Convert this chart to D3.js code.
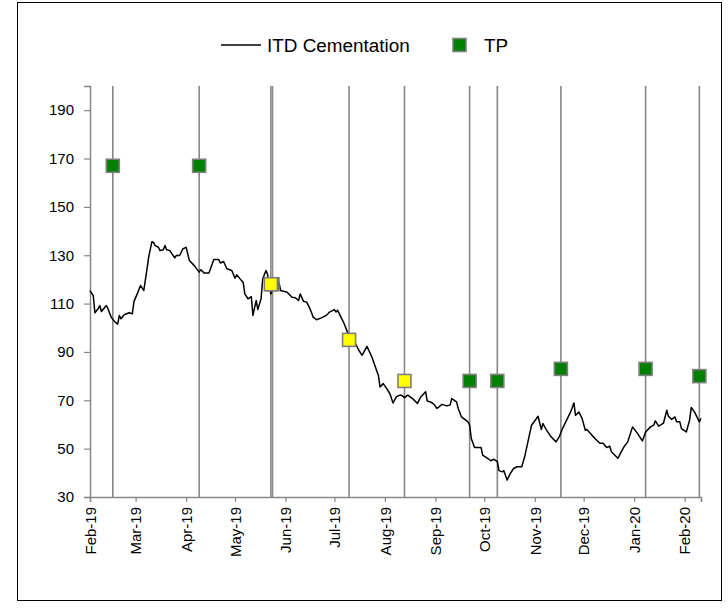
<!DOCTYPE html>
<html>
<head>
<meta charset="utf-8">
<script src="https://cdn.jsdelivr.net/npm/d3@7"></script>
<style>
  body { margin: 0; background: #fff; }
  svg { display: block; font-family: "Liberation Sans", Arial, sans-serif; }
</style>
</head>
<body>
<div id="chart"></div>
<script>
// price series
const priceDates = [
  '2019-02-01','2019-02-03','2019-02-04','2019-02-06','2019-02-07','2019-02-08','2019-02-11','2019-02-12',
  '2019-02-14','2019-02-16','2019-02-18','2019-02-19','2019-02-20','2019-02-22','2019-02-25','2019-02-27',
  '2019-02-28','2019-03-02','2019-03-04','2019-03-06','2019-03-08','2019-03-09','2019-03-11','2019-03-12',
  '2019-03-13','2019-03-15','2019-03-16','2019-03-18','2019-03-19','2019-03-20','2019-03-22','2019-03-25',
  '2019-03-26','2019-03-28','2019-03-30','2019-04-01','2019-04-03','2019-04-06','2019-04-09','2019-04-10',
  '2019-04-12','2019-04-15','2019-04-18','2019-04-21','2019-04-22','2019-04-24','2019-04-26','2019-04-29',
  '2019-05-01','2019-05-02','2019-05-05','2019-05-06','2019-05-07','2019-05-09','2019-05-11','2019-05-12',
  '2019-05-14','2019-05-15','2019-05-17','2019-05-18','2019-05-20','2019-05-21','2019-05-23','2019-05-24',
  '2019-05-28','2019-05-29','2019-06-02','2019-06-05','2019-06-07','2019-06-09','2019-06-10','2019-06-12',
  '2019-06-14','2019-06-16','2019-06-18','2019-06-20','2019-06-23','2019-06-26','2019-06-28','2019-07-01',
  '2019-07-02','2019-07-03','2019-07-05','2019-07-07','2019-07-09','2019-07-11','2019-07-14','2019-07-16',
  '2019-07-18','2019-07-21','2019-07-24','2019-07-26','2019-07-28','2019-07-29','2019-07-31','2019-08-02',
  '2019-08-04','2019-08-06','2019-08-08','2019-08-10','2019-08-11','2019-08-13','2019-08-15','2019-08-18',
  '2019-08-21','2019-08-23','2019-08-26','2019-08-27','2019-08-29','2019-08-31','2019-09-02','2019-09-05',
  '2019-09-08','2019-09-10','2019-09-11','2019-09-14','2019-09-15','2019-09-17','2019-09-19','2019-09-21',
  '2019-09-22','2019-09-23','2019-09-25','2019-09-27','2019-09-29','2019-09-30','2019-10-03','2019-10-05',
  '2019-10-07','2019-10-09','2019-10-10','2019-10-12','2019-10-13','2019-10-15','2019-10-17','2019-10-19',
  '2019-10-21','2019-10-24','2019-10-26','2019-10-28','2019-10-30','2019-11-03','2019-11-05','2019-11-06',
  '2019-11-08','2019-11-11','2019-11-12','2019-11-14','2019-11-16','2019-11-18','2019-11-20','2019-11-23',
  '2019-11-25','2019-11-26','2019-11-28','2019-11-30','2019-12-02','2019-12-03','2019-12-06','2019-12-09',
  '2019-12-11','2019-12-13','2019-12-15','2019-12-17','2019-12-18','2019-12-22','2019-12-24','2019-12-26',
  '2019-12-28','2019-12-31','2020-01-03','2020-01-06','2020-01-08','2020-01-11','2020-01-13','2020-01-14',
  '2020-01-16','2020-01-19','2020-01-21','2020-01-22','2020-01-24','2020-01-26','2020-01-27','2020-01-29',
  '2020-01-30','2020-02-02','2020-02-04','2020-02-05','2020-02-07','2020-02-10','2020-02-11'
];
const priceValues = [
  115.4,113.3,106.2,107.9,109.2,106.7,109.2,107.9,
  104.4,102.6,101.5,105.1,103.7,105.4,106.2,105.8,
  110.9,114.0,117.5,115.4,124.4,129.2,135.6,135.3,
  134.0,133.3,131.9,132.3,134.0,132.3,131.9,128.9,
  129.9,129.9,132.6,133.3,127.8,125.7,123.0,124.0,
  122.7,122.7,128.2,128.2,126.8,127.4,124.4,123.7,
  120.5,121.9,119.5,118.8,114.0,112.0,112.9,105.1,
  111.3,107.5,112.0,120.2,123.7,122.0,114.0,115.4,
  118.8,115.4,114.7,112.6,112.4,111.3,114.0,111.0,
  110.6,107.9,104.4,103.3,104.1,105.1,106.5,107.5,
  106.5,107.2,104.4,101.7,98.2,95.5,93.4,90.7,
  88.6,92.3,87.9,84.1,80.3,75.5,76.9,74.9,
  72.8,68.9,71.4,72.1,72.1,71.1,72.1,70.7,
  68.7,71.4,73.5,69.7,69.3,68.4,66.6,68.3,
  67.7,68.0,70.7,69.3,66.6,63.1,62.1,61.1,
  59.7,54.2,50.5,50.5,50.5,47.3,46.0,45.0,
  45.6,44.6,40.9,40.4,40.9,37.0,39.8,41.8,
  42.5,42.5,47.3,53.5,59.7,63.4,57.9,60.4,
  57.9,54.9,54.2,52.8,54.9,58.3,61.1,65.2,
  68.9,63.8,65.2,62.5,57.6,57.9,55.6,53.5,
  52.2,52.2,50.5,51.0,48.7,46.0,48.7,51.0,
  52.8,59.0,56.3,53.2,56.9,59.0,59.7,61.5,
  59.3,60.6,65.9,63.4,62.1,63.1,61.1,61.1,
  58.3,56.9,61.8,67.0,65.2,61.1,62.5
];

// target prices (TP)
const tpDates  = ['2019-02-15','2019-04-09','2019-05-24','2019-05-23','2019-07-10','2019-08-13',
                  '2019-09-22','2019-10-09','2019-11-17','2020-01-08','2020-02-10'];
const tpValues = [167, 167, 118, 118, 95, 78, 78, 78, 83, 83, 80];
const tpStatus = ['open','open','open','hit','hit','hit','open','open','open','open','open'];

const xTicks = ['2019-02-01','2019-03-01','2019-04-01','2019-05-01','2019-06-01','2019-07-01','2019-08-01',
                '2019-09-01','2019-10-01','2019-11-01','2019-12-01','2020-01-01','2020-02-01'];
const yTicks = [30, 50, 70, 90, 110, 130, 150, 170, 190];
const xDomain = ['2019-02-01', '2020-02-11'];
const yDomain = [30, 200];

const seriesName = 'ITD Cementation';
const tpName = 'TP';

const parse = d3.timeParse('%Y-%m-%d');
const fmt = d3.timeFormat('%b-%y');

const w = 728, h = 615;
const plotLeft = 90, plotRight = 701, plotTop = 86, plotBottom = 497;

const svg = d3.select('#chart').append('svg')
  .attr('width', w)
  .attr('height', h);

// chart frame
svg.append('rect')
  .attr('x', 17.5).attr('y', 2.5)
  .attr('width', 704).attr('height', 598)
  .attr('fill', 'none')
  .attr('stroke', '#000')
  .attr('stroke-width', 1);

const x = d3.scaleTime()
  .domain(xDomain.map(parse))
  .range([plotLeft, plotRight]);

const y = d3.scaleLinear()
  .domain(yDomain)
  .range([plotBottom, plotTop]);

const tpColor = d3.scaleOrdinal()
  .domain(['open', 'hit'])
  .range(['#008000', '#ffff00']);

const price = priceDates.map((d, i) => ({ date: parse(d), value: priceValues[i] }));
const tps = tpDates.map((d, i) => ({ date: parse(d), value: tpValues[i], status: tpStatus[i] }));

// vertical lines at each TP date
svg.append('g').selectAll('line')
  .data(tps)
  .enter()
  .append('line')
  .attr('x1', d => x(d.date))
  .attr('x2', d => x(d.date))
  .attr('y1', plotTop)
  .attr('y2', plotBottom)
  .attr('stroke', '#878787')
  .attr('stroke-width', 1.6);

// axes
const yAxis = d3.axisLeft(y).tickValues(yTicks).tickSize(6).tickPadding(10);
const gy = svg.append('g')
  .attr('transform', 'translate(' + plotLeft + ',0)')
  .call(yAxis);
gy.select('.domain').attr('stroke', '#878787').attr('stroke-width', 1.5);
gy.selectAll('.tick line').attr('stroke', '#878787').attr('stroke-width', 1.2);
gy.selectAll('.tick text').attr('font-size', 15).attr('fill', '#000');

const xAxis = d3.axisBottom(x).tickValues(xTicks.map(parse)).tickFormat(fmt).tickSize(5);
const gx = svg.append('g')
  .attr('transform', 'translate(0,' + plotBottom + ')')
  .call(xAxis);
gx.select('.domain').attr('stroke', '#878787').attr('stroke-width', 1.5);
gx.selectAll('.tick line').attr('stroke', '#878787').attr('stroke-width', 1.2);
gx.selectAll('.tick text')
  .attr('font-size', 15)
  .attr('fill', '#000')
  .attr('text-anchor', 'end')
  .attr('y', 0)
  .attr('dy', '0.35em')
  .attr('transform', 'translate(0,10) rotate(-90)');

// price line
const line = d3.line()
  .x(d => x(d.date))
  .y(d => y(d.value));

svg.append('path')
  .datum(price)
  .attr('fill', 'none')
  .attr('stroke', '#000')
  .attr('stroke-width', 1.5)
  .attr('stroke-linejoin', 'round')
  .attr('d', line);

// TP markers
const sq = 13;
svg.append('g').selectAll('rect')
  .data(tps)
  .enter()
  .append('rect')
  .attr('x', d => x(d.date) - sq / 2)
  .attr('y', d => y(d.value) - sq / 2)
  .attr('width', sq)
  .attr('height', sq)
  .attr('fill', d => tpColor(d.status))
  .attr('stroke', '#7f7f7f')
  .attr('stroke-width', 1.6);

// legend
const legend = svg.append('g');
legend.append('line')
  .attr('x1', 221).attr('x2', 261)
  .attr('y1', 45).attr('y2', 45)
  .attr('stroke', '#000')
  .attr('stroke-width', 1.5);
legend.append('text')
  .attr('x', 267).attr('y', 52)
  .attr('font-size', 18.9)
  .text(seriesName);
legend.append('rect')
  .attr('x', 453).attr('y', 38.5)
  .attr('width', sq).attr('height', sq)
  .attr('fill', tpColor('open'))
  .attr('stroke', '#7f7f7f')
  .attr('stroke-width', 1.6);
legend.append('text')
  .attr('x', 484).attr('y', 52)
  .attr('font-size', 18.9)
  .text(tpName);
</script>
</body>
</html>
